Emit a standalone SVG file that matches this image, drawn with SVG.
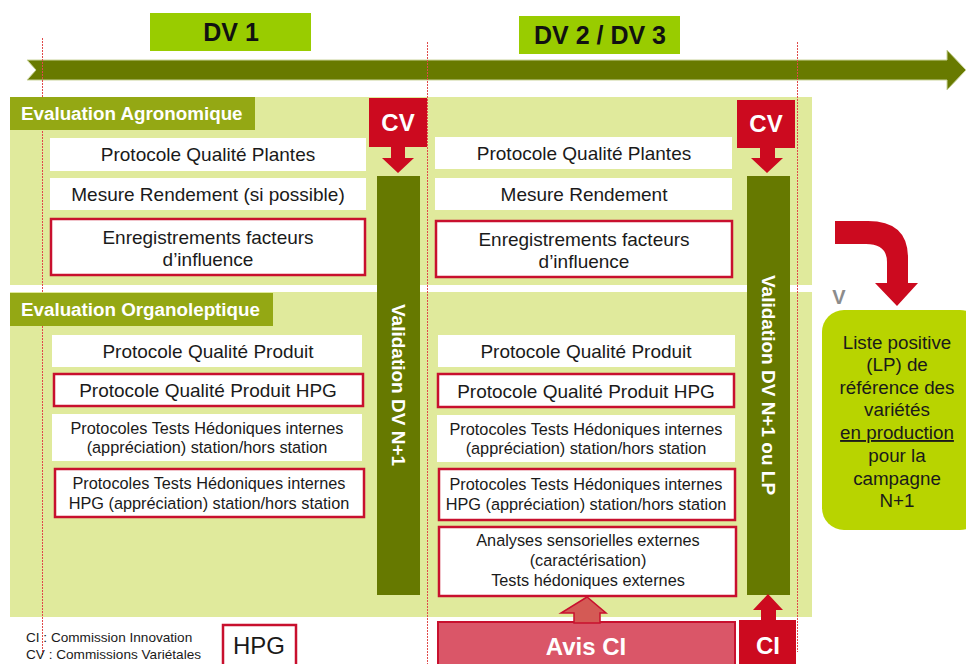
<svg xmlns="http://www.w3.org/2000/svg" width="966" height="664" viewBox="0 0 966 664">
<defs>
<style>
text{font-family:"Liberation Sans",Arial,sans-serif;fill:#1a1a1a}
.panel{fill:#e0ea9c}
.hdr{fill:#94a814}
.hdrt{font-size:18.8px;font-weight:bold;fill:#fff}
.wb{fill:#fff}
.rb{fill:#fff;stroke:#c8102e;stroke-width:2.5}
.t17{font-size:19px;text-anchor:middle}
.t15{font-size:16.3px;text-anchor:middle}
.tlp{font-size:18.8px;text-anchor:middle}
.dv{fill:#99cc00}
.dvt{font-size:25px;font-weight:bold;text-anchor:middle;fill:#111}
.olive{fill:#667900}
.red{fill:#cc0a1f}
.wt{font-weight:bold;fill:#fff;text-anchor:middle}
.dash{stroke:#e04a4a;stroke-width:1;stroke-dasharray:2 1;fill:none}
</style>
</defs>

<g id="timeline">
<polygon points="27,60 947,60 947,50 966,70 947,90 947,80 27,80 36,70" fill="#687a00" stroke="#c9d39a" stroke-width="1"/>
</g>
<g id="dv1"><rect class="dv" x="150" y="13" width="161" height="38"/><text class="dvt" x="231" y="41">DV 1</text></g>
<g id="dv23"><rect class="dv" x="519" y="16" width="161" height="38"/><text class="dvt" x="600" y="44">DV 2 / DV 3</text></g>

<g id="panel-agro"><rect class="panel" x="10" y="97" width="802" height="188"/></g>
<g id="panel-organo"><rect class="panel" x="10" y="292" width="802" height="325"/></g>

<g id="guides">
<line class="dash" x1="42.5" y1="38" x2="42.5" y2="656"/>
<line class="dash" x1="427.5" y1="42" x2="427.5" y2="664"/>
<line class="dash" x1="797.5" y1="42" x2="797.5" y2="652"/>
</g>

<g id="hdr-agro"><rect class="hdr" x="10" y="97" width="245" height="33"/><text class="hdrt" x="21" y="120">Evaluation Agronomique</text></g>
<g id="hdr-organo"><rect class="hdr" x="10" y="293" width="263" height="33"/><text class="hdrt" x="21" y="316">Evaluation Organoleptique</text></g>

<g id="a1"><rect class="wb" x="50" y="138" width="316" height="33"/><text class="t17" x="208" y="161">Protocole Qualité Plantes</text></g>
<g id="a2"><rect class="wb" x="50" y="178" width="316" height="32"/><text class="t17" x="208" y="201">Mesure Rendement (si possible)</text></g>
<g id="a3"><rect class="rb" x="51" y="219" width="314" height="56"/><text class="t17" x="208" y="244">Enregistrements facteurs</text><text class="t17" x="208" y="266">d’influence</text></g>

<g id="b1"><rect class="wb" x="435" y="137" width="297" height="32"/><text class="t17" x="584" y="160">Protocole Qualité Plantes</text></g>
<g id="b2"><rect class="wb" x="435" y="178" width="297" height="32"/><text class="t17" x="584" y="201">Mesure Rendement</text></g>
<g id="b3"><rect class="rb" x="436" y="221" width="296" height="56"/><text class="t17" x="584" y="246">Enregistrements facteurs</text><text class="t17" x="584" y="268">d’influence</text></g>

<g id="c1"><rect class="wb" x="52" y="335" width="310" height="32"/><text class="t17" x="208" y="358">Protocole Qualité Produit</text></g>
<g id="c2"><rect class="rb" x="54" y="374" width="309" height="32"/><text class="t17" x="208" y="397">Protocole Qualité Produit HPG</text></g>
<g id="c3"><rect class="wb" x="52" y="414" width="310" height="47"/><text class="t15" x="207" y="434">Protocoles Tests Hédoniques internes</text><text class="t15" x="207" y="453">(appréciation) station/hors station</text></g>
<g id="c4"><rect class="rb" x="55" y="469" width="309" height="48"/><text class="t15" x="209" y="489">Protocoles Tests Hédoniques internes</text><text class="t15" x="209" y="509">HPG (appréciation) station/hors station</text></g>

<g id="d1"><rect class="wb" x="438" y="335" width="297" height="32"/><text class="t17" x="586" y="358">Protocole Qualité Produit</text></g>
<g id="d2"><rect class="rb" x="438" y="374" width="296" height="33"/><text class="t17" x="586" y="398">Protocole Qualité Produit HPG</text></g>
<g id="d3"><rect class="wb" x="437" y="415" width="298" height="47"/><text class="t15" x="586" y="435">Protocoles Tests Hédoniques internes</text><text class="t15" x="586" y="454">(appréciation) station/hors station</text></g>
<g id="d4"><rect class="rb" x="439" y="469" width="296" height="51"/><text class="t15" x="586" y="490">Protocoles Tests Hédoniques internes</text><text class="t15" x="586" y="510">HPG (appréciation) station/hors station</text></g>
<g id="d5"><rect class="rb" x="439" y="527" width="297" height="69"/><text class="t15" x="588" y="546">Analyses sensorielles externes</text><text class="t15" x="588" y="566">(caractérisation)</text><text class="t15" x="588" y="586">Tests hédoniques externes</text></g>

<g id="val1"><rect class="olive" x="377" y="176" width="43" height="419"/><text class="wt" font-size="19" transform="translate(398.5,385) rotate(90)" y="6.8">Validation DV N+1</text></g>
<g id="val2"><rect class="olive" x="747" y="176" width="43" height="419"/><text class="wt" font-size="19" transform="translate(768.5,385) rotate(90)" y="6.8">Validation DV N+1 ou LP</text></g>

<g id="cv1"><rect class="red" x="369" y="98" width="58" height="49"/><text class="wt" font-size="24" x="398" y="131">CV</text></g>
<g id="cv2"><rect class="red" x="737" y="100" width="58" height="48"/><text class="wt" font-size="24" x="766" y="132">CV</text></g>
<g id="ci"><rect class="red" x="739" y="620" width="57" height="50"/><text class="wt" font-size="24" x="768" y="654">CI</text></g>
<g id="avisci"><rect x="438" y="622" width="297" height="48" fill="#da5668" stroke="#c8102e" stroke-width="2"/><text class="wt" font-size="24" x="586" y="655">Avis CI</text></g>

<g id="lp"><rect x="822" y="310" width="160" height="220" rx="22" fill="#b8d400"/>
<text class="tlp" x="897" y="349">Liste positive</text>
<text class="tlp" x="897" y="371">(LP) de</text>
<text class="tlp" x="897" y="394">référence des</text>
<text class="tlp" x="897" y="416">variétés</text>
<text class="tlp" x="897" y="439" text-decoration="underline">en production</text>
<text class="tlp" x="897" y="462">pour la</text>
<text class="tlp" x="897" y="485">campagne</text>
<text class="tlp" x="897" y="507">N+1</text>
</g>
<g id="v-mark"><text x="839" y="304" font-size="20" font-weight="bold" text-anchor="middle" style="fill:#8c8c8c">V</text></g>

<g id="legend">
<text x="26" y="642" font-size="13.6">CI : Commission Innovation</text>
<text x="26" y="659" font-size="13.6">CV : Commissions Variétales</text>
</g>
<g id="hpg-key"><rect class="rb" x="223" y="625" width="73" height="42"/><text x="259" y="654" font-size="24" text-anchor="middle">HPG</text></g>

<g id="connectors">
<polygon class="red" points="391,146 405,146 405,158 414,158 398,173 382,158 391,158"/>
<polygon class="red" points="760,147 775,147 775,158 783,158 767,173 751,158 760,158"/>
<polygon class="red" points="761,621 776,621 776,610 783,610 768,594 753,610 761,610"/>
<polygon points="574,623 600,623 600,613 606,613 587,597 561,613 574,613" fill="#d45a55" stroke="#c8102e" stroke-width="1.5"/>
<path class="red" d="M835,221 L868,221 Q908,221 908,258 L908,283 L918,283 L897,306 L875,283 L887,283 L887,262 Q887,244 866,244 L835,244 Z"/>
</g>
</svg>
